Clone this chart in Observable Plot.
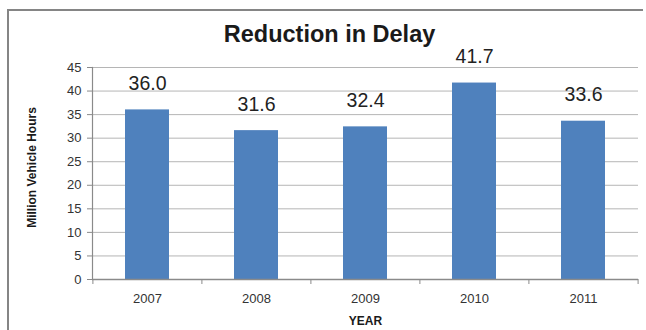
<!DOCTYPE html>
<html>
<head>
<meta charset="utf-8">
<script src="https://cdn.jsdelivr.net/npm/d3@7"></script>
<script src="https://cdn.jsdelivr.net/npm/@observablehq/plot@0.6"></script>
<style>
  html, body { margin: 0; padding: 0; background: #fff; overflow: hidden; }
  #wrap { position: relative; width: 646px; height: 330px; }
  #box { position: absolute; left: 7px; top: 9px; width: 634px; height: 340px;
         border-left: 2px solid #858585; border-top: 2px solid #858585; }
  #chart { position: absolute; left: 0; top: 0; }
</style>
</head>
<body>
<div id="wrap"><div id="box"></div><div id="chart"></div></div>
<script>
// Annual reduction in congestion delay (million vehicle hours)
const years = ["2007", "2008", "2009", "2010", "2011"];
const delay = [36.0, 31.6, 32.4, 41.7, 33.6];
const yTicks = [0, 5, 10, 15, 20, 25, 30, 35, 40, 45];
const title = "Reduction in Delay";
const yLabel = "Million Vehicle Hours";
const xLabel = "YEAR";

const data = years.map((year, i) => ({year, value: delay[i]}));

const font = "'Liberation Sans', Arial, sans-serif";
const W = 646, H = 330;
const mL = 92, mR = 8, mT = 67, mB = 51;
const step = (W - mL - mR) / years.length;
const axisColor = "#8a8a8a";
const textColor = "#333";

const chart = Plot.plot({
  width: W,
  height: H,
  marginLeft: mL,
  marginRight: mR,
  marginTop: mT,
  marginBottom: mB,
  style: {fontFamily: font, background: "transparent", overflow: "visible"},
  x: {domain: years, paddingInner: 0.6, paddingOuter: 0.3, label: null},
  y: {domain: [0, 45], label: null},
  marks: [
    Plot.gridY(yTicks, {stroke: "#b5b5b5", strokeOpacity: 1, strokeWidth: 1}),
    Plot.barY(data, {x: "year", y: "value", fill: "#4f81bd"}),
    Plot.frame({anchor: "left", stroke: axisColor, strokeWidth: 1.2}),
    Plot.ruleY([0], {stroke: axisColor, strokeWidth: 1.6}),
    // y axis: outward ticks and labels
    Plot.axisY(yTicks, {tickSize: 5, tickPadding: 6, stroke: axisColor, fill: textColor,
                        fontSize: 13, label: null}),
    // x axis: tick marks on category boundaries
    Plot.axisX(years, {tickSize: 5, dx: -step / 2, stroke: axisColor, tickFormat: () => "", label: null}),
    Plot.axisX([years[years.length - 1]], {tickSize: 5, dx: step / 2, stroke: axisColor, tickFormat: () => "", label: null}),
    // x axis: category labels centred under the bars
    Plot.axisX(years, {tickSize: 0, tickPadding: 14, fill: textColor, fontSize: 13, label: null}),
    // value labels above the bars
    Plot.text(data, {x: "year", y: "value", text: d => d.value.toFixed(1), dy: -26,
                     fontSize: 19.5, fill: "#222", lineAnchor: "middle"}),
    // titles
    Plot.text([title], {frameAnchor: "top", dx: -36, dy: -33, fontSize: 23.5, fontWeight: "bold",
                        fill: "#1a1a1a", lineAnchor: "middle"}),
    Plot.text([yLabel], {frameAnchor: "left", textAnchor: "middle", dx: -60, dy: -6, rotate: -90,
                         fontSize: 12, fontWeight: "bold", fill: "#1a1a1a", lineAnchor: "middle"}),
    Plot.text([xLabel], {frameAnchor: "bottom", dy: 42, fontSize: 12, fontWeight: "bold",
                         fill: "#1a1a1a", lineAnchor: "middle"})
  ]
});

document.getElementById("chart").appendChild(chart);
</script>
</body>
</html>
